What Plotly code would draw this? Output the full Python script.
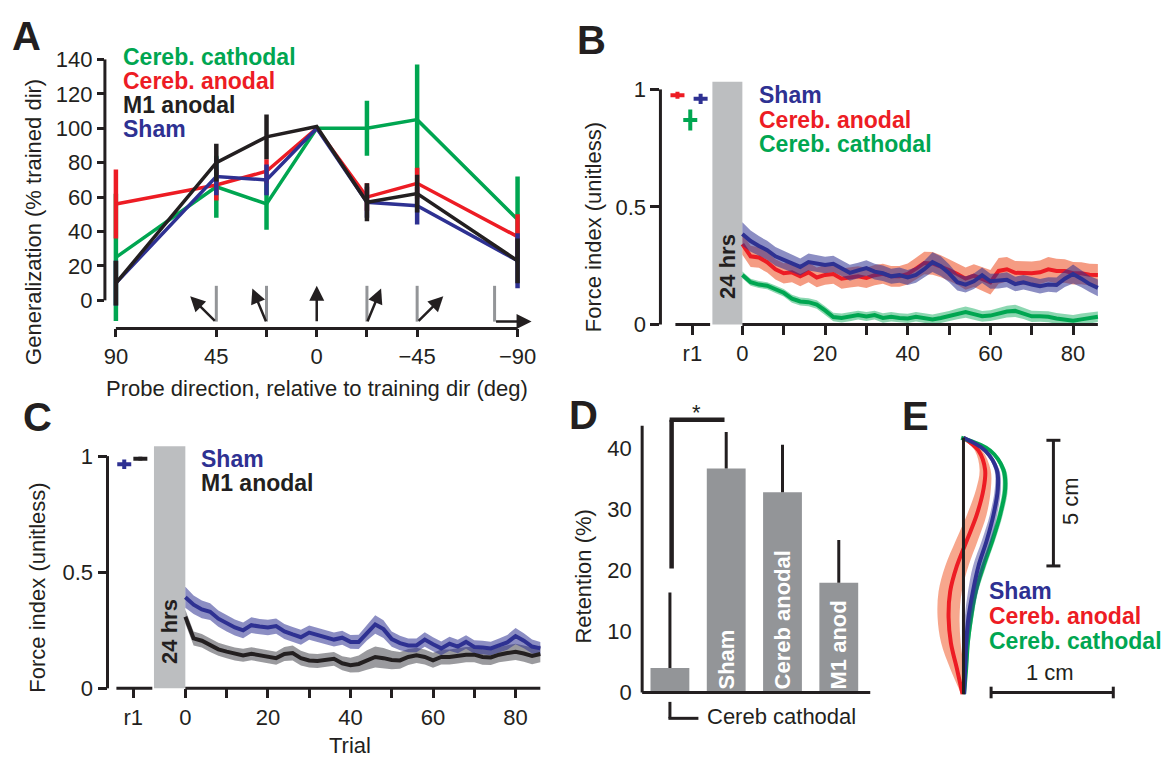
import math
import plotly.graph_objects as go

W, H = 1168, 771
FONT = "Liberation Sans, Arial, Helvetica, sans-serif"
GREEN = "#00A651"
RED = "#ED1C24"
BLACK = "#231F20"
BLUE = "#2E3192"
GRAY_BAR = "#939598"
GRAY_BOX = "#BCBEC0"
GRAY_LINE = "#939598"

# ------------------------------------------------------------------ data
# Panel A: generalization
probe_dirs = [90, 45, 22.5, 0, -22.5, -45, -90]
probe_tick_text = ["90", "45", "", "0", "", "\u221245", "\u221290"]
gen_cathodal = [25, 66, 56, 100, 100, 105, 47]
gen_cathodal_err = [37, 18, 15, 0, 16, 32, 25]
gen_anodal = [56, 67, 75, 100, 60, 68, 37]
gen_anodal_err = [20, 9, 7, 0, 8, 9, 13]
gen_sham = [10, 72, 70, 100, 57, 55, 23]
gen_sham_err = [13, 11, 9, 0, 9, 11, 16]
gen_m1 = [10, 80, 95, 101, 57, 62, 23]
gen_m1_err = [13, 11, 13, 0, 11, 11, 13]
a_yticks = [0, 20, 40, 60, 80, 100, 120, 140]

# Panels B / C: force index vs trial
trials = list(range(0, 87, 2))
trial_ticks = [0, 10, 20, 30, 40, 50, 60, 70, 80]
trial_tick_text = ["0", "", "20", "", "40", "", "60", "", "80"]
fi_ticks = [0, 0.5, 1]
fi_tick_text = ["0", "0.5", "1"]

b_sham = [0.385, 0.355, 0.334, 0.316, 0.290, 0.275, 0.260, 0.245, 0.266, 0.259,
          0.253, 0.258, 0.240, 0.220, 0.230, 0.240, 0.225, 0.218, 0.205, 0.210,
          0.200, 0.211, 0.235, 0.265, 0.248, 0.218, 0.180, 0.170, 0.184, 0.210,
          0.184, 0.185, 0.190, 0.172, 0.180, 0.170, 0.163, 0.170, 0.168, 0.195,
          0.215, 0.195, 0.172, 0.156]
b_sham_sem = [0.050, 0.045, 0.042, 0.040, 0.040, 0.038, 0.037, 0.036, 0.036, 0.036,
              0.035, 0.035, 0.034, 0.034, 0.033, 0.033, 0.033, 0.033, 0.032, 0.032,
              0.032, 0.033, 0.036, 0.042, 0.042, 0.038, 0.035, 0.034, 0.033, 0.033,
              0.032, 0.032, 0.032, 0.031, 0.031, 0.031, 0.031, 0.031, 0.032, 0.035,
              0.040, 0.036, 0.034, 0.036]
b_anodal = [0.342, 0.290, 0.285, 0.265, 0.235, 0.218, 0.222, 0.205, 0.222, 0.200,
            0.211, 0.215, 0.195, 0.200, 0.205, 0.198, 0.210, 0.216, 0.205, 0.205,
            0.215, 0.238, 0.262, 0.260, 0.248, 0.232, 0.215, 0.195, 0.208, 0.195,
            0.180, 0.228, 0.235, 0.220, 0.218, 0.218, 0.222, 0.235, 0.228, 0.228,
            0.218, 0.218, 0.212, 0.211]
b_anodal_sem = [0.045, 0.045, 0.044, 0.044, 0.043, 0.043, 0.042, 0.042, 0.042, 0.042,
                0.042, 0.042, 0.043, 0.043, 0.043, 0.043, 0.043, 0.043, 0.044, 0.044,
                0.045, 0.046, 0.048, 0.048, 0.047, 0.046, 0.046, 0.047, 0.048, 0.050,
                0.052, 0.055, 0.052, 0.050, 0.050, 0.050, 0.050, 0.052, 0.052, 0.050,
                0.048, 0.047, 0.046, 0.046]
b_cathodal = [0.211, 0.180, 0.170, 0.165, 0.150, 0.135, 0.110, 0.098, 0.095, 0.085,
              0.060, 0.032, 0.028, 0.033, 0.040, 0.034, 0.040, 0.028, 0.033, 0.028,
              0.026, 0.033, 0.028, 0.022, 0.028, 0.035, 0.045, 0.053, 0.044, 0.035,
              0.038, 0.047, 0.055, 0.058, 0.048, 0.035, 0.035, 0.033, 0.026, 0.020,
              0.016, 0.022, 0.028, 0.033]
b_cathodal_sem = [0.014, 0.015, 0.015, 0.015, 0.016, 0.016, 0.017, 0.017, 0.017, 0.018,
                  0.018, 0.018, 0.019, 0.019, 0.019, 0.019, 0.019, 0.020, 0.020, 0.020,
                  0.020, 0.020, 0.021, 0.021, 0.022, 0.022, 0.023, 0.024, 0.024, 0.023,
                  0.023, 0.024, 0.025, 0.026, 0.025, 0.024, 0.023, 0.023, 0.023, 0.024,
                  0.025, 0.025, 0.024, 0.022]
# r1 (end of day-1 training) values for panel B: anodal, cathodal, sham
b_r1_groups = ["Cereb. anodal", "Cereb. cathodal", "Sham"]
b_r1_pos = [-15.7, -12.6, -10.1]
b_r1_val = [0.975, 0.870, 0.960]
b_r1_err = [0.015, 0.045, 0.022]
b_r1_tick = -12.1

c_sham = [0.392, 0.360, 0.340, 0.330, 0.300, 0.280, 0.262, 0.250, 0.272, 0.266,
          0.262, 0.268, 0.245, 0.232, 0.220, 0.240, 0.230, 0.220, 0.210, 0.218,
          0.200, 0.200, 0.240, 0.275, 0.255, 0.212, 0.195, 0.185, 0.185, 0.210,
          0.190, 0.172, 0.192, 0.180, 0.200, 0.178, 0.176, 0.172, 0.185, 0.198,
          0.225, 0.205, 0.180, 0.172]
c_sham_sem = [0.045, 0.040, 0.038, 0.036, 0.035, 0.035, 0.034, 0.034, 0.034, 0.033,
              0.033, 0.033, 0.032, 0.032, 0.032, 0.031, 0.031, 0.031, 0.030, 0.030,
              0.030, 0.031, 0.034, 0.040, 0.038, 0.033, 0.031, 0.030, 0.030, 0.031,
              0.030, 0.030, 0.030, 0.029, 0.029, 0.029, 0.029, 0.029, 0.030, 0.032,
              0.035, 0.032, 0.030, 0.028]
c_m1 = [0.308, 0.215, 0.205, 0.185, 0.168, 0.158, 0.148, 0.142, 0.149, 0.143,
        0.137, 0.130, 0.148, 0.152, 0.130, 0.120, 0.118, 0.121, 0.127, 0.108,
        0.100, 0.105, 0.122, 0.135, 0.130, 0.122, 0.120, 0.135, 0.142, 0.135,
        0.121, 0.135, 0.135, 0.140, 0.145, 0.145, 0.135, 0.133, 0.145, 0.152,
        0.157, 0.150, 0.140, 0.148]
c_m1_sem = [0.030, 0.030, 0.029, 0.029, 0.028, 0.028, 0.028, 0.028, 0.028, 0.028,
            0.028, 0.028, 0.030, 0.032, 0.032, 0.030, 0.030, 0.030, 0.030, 0.030,
            0.032, 0.036, 0.042, 0.045, 0.044, 0.040, 0.036, 0.034, 0.033, 0.032,
            0.032, 0.032, 0.032, 0.033, 0.033, 0.033, 0.033, 0.033, 0.033, 0.034,
            0.035, 0.035, 0.036, 0.036]
c_r1_pos = [-14.8, -10.9]
c_r1_val = [0.965, 0.989]
c_r1_err = [0.020, 0.008]
c_r1_tick = -12.6

# Panel D: retention
d_groups = ["Cereb cathodal", "Sham", "Cereb anodal", "M1 anod"]
d_bar_labels = ["", "Sham", "Cereb anodal", "M1 anod"]
d_retention = [4.0, 36.7, 32.8, 18.0]
d_sem = [12.4, 6.0, 7.8, 7.0]
d_yticks = [0, 10, 20, 30, 40]

# Panel E: hand paths (lateral deviation in cm vs distance along reach in cm)
e_along = [0, 1, 2, 3, 4, 5, 6, 7, 8, 8.75, 9.5, 10]
e_sham = [0.005, 0.014, 0.022, 0.041, 0.077, 0.123, 0.191, 0.246, 0.281, 0.273, 0.177, 0.0]
e_sham_sd = [0.005, 0.015, 0.020, 0.030, 0.040, 0.045, 0.040, 0.030, 0.025, 0.020, 0.015, 0.005]
e_anodal = [-0.008, -0.054, -0.103, -0.122, -0.109, -0.054, 0.028, 0.109, 0.164, 0.177, 0.123, 0.0]
e_anodal_sd = [0.010, 0.055, 0.080, 0.090, 0.095, 0.095, 0.090, 0.080, 0.060, 0.045, 0.030, 0.010]
e_cathodal = [0.005, 0.022, 0.036, 0.063, 0.100, 0.164, 0.237, 0.300, 0.341, 0.327, 0.218, -0.019]
e_cathodal_sd = [0.005, 0.012, 0.015, 0.018, 0.020, 0.022, 0.022, 0.022, 0.022, 0.020, 0.015, 0.005]


# ------------------------------------------------------------------ helpers
def lin(v0, p0, v1, p1):
    k = (p1 - p0) / (v1 - v0)
    return (lambda v: p0 + (v - v0) * k), (lambda p: v0 + (p - p0) / k)


def PX(x):
    return x / W


def PY(y):
    return 1 - y / H


def panel(xmap, ymap, xdom, ydom):
    """xdom=(left px, right px), ydom=(top px, bottom px)"""
    fx, ix = lin(*xmap)
    fy, iy = lin(*ymap)
    return dict(fx=fx, fy=fy,
                xd=[PX(xdom[0]), PX(xdom[1])], yd=[PY(ydom[1]), PY(ydom[0])],
                xr=[ix(xdom[0]), ix(xdom[1])], yr=[iy(ydom[1]), iy(ydom[0])])


pA = panel((90, 115, -90, 517), (0, 298, 140, 49), (104, 540), (49, 327))
pB = panel((0, 742, 80, 1073), (0, 323, 1, 80), (660, 1100), (60, 323))
pC = panel((0, 184.5, 80, 515), (0, 699, 1, 459), (106.6, 541), (430, 699))
pD = panel((0, 669.5, 3, 838.5), (0, 703.3, 40, 451), (641.7, 870), (405, 703.3))
pE = panel((0, 963.3, 1, 1085.6), (0, 705, 10, 440), (925, 1168), (425, 720))

shapes = []
annotations = []


def pline(x0, y0, x1, y1, color=BLACK, width=3):
    shapes.append(dict(type="line", xref="paper", yref="paper",
                       x0=PX(x0), y0=PY(y0), x1=PX(x1), y1=PY(y1),
                       line=dict(color=color, width=width)))


def prect(x0, y0, x1, y1, color):
    shapes.append(dict(type="rect", xref="paper", yref="paper", layer="below",
                       x0=PX(x0), y0=PY(y0), x1=PX(x1), y1=PY(y1),
                       fillcolor=color, line=dict(width=0)))


def ptext(x, y, text, size=22, color=BLACK, xanchor="center", yanchor="middle", angle=0):
    annotations.append(dict(xref="paper", yref="paper", x=PX(x), y=PY(y), text=text,
                            showarrow=False, xanchor=xanchor, yanchor=yanchor,
                            textangle=angle, borderpad=0,
                            font=dict(family=FONT, size=size, color=color)))


def band(t, m, s, color, xa, ya, shape="linear"):
    up = [a + b for a, b in zip(m, s)]
    lo = [a - b for a, b in zip(m, s)]
    fig.add_trace(go.Scatter(x=list(t) + list(t)[::-1], y=up + lo[::-1], fill="toself",
                             fillcolor=color, line=dict(width=0, shape=shape), mode="lines",
                             xaxis=xa, yaxis=ya, hoverinfo="skip"))


def hband(along, m, s, color, xa, ya):
    right = [a + b for a, b in zip(m, s)]
    left = [a - b for a, b in zip(m, s)]
    fig.add_trace(go.Scatter(x=right + left[::-1], y=list(along) + list(along)[::-1],
                             fill="toself", fillcolor=color, mode="lines",
                             line=dict(width=0, shape="spline"),
                             xaxis=xa, yaxis=ya, hoverinfo="skip"))


fig = go.Figure()

# ------------------------------------------------------------------ Panel A
for vals, errs, col in [(gen_cathodal, gen_cathodal_err, GREEN),
                        (gen_anodal, gen_anodal_err, RED),
                        (gen_sham, gen_sham_err, BLUE),
                        (gen_m1, gen_m1_err, BLACK)]:
    fig.add_trace(go.Scatter(x=probe_dirs, y=vals, mode="lines",
                             line=dict(color=col, width=3.5),
                             error_y=dict(type="data", array=errs, visible=True,
                                          thickness=4.5, width=0, color=col),
                             xaxis="x", yaxis="y", hoverinfo="skip"))

# axis lines A
pline(104, pA["fy"](0), 104, pA["fy"](140))
pline(pA["fx"](90), 327, pA["fx"](-90), 327)

# probe direction icons
L = 37
base_y = 320
for d in probe_dirs[1:]:
    bx = pA["fx"](d)
    if abs(d) == 90:
        bx -= 23
    if d != 0:
        pline(bx, base_y - L, bx, base_y, color=GRAY_LINE, width=3)
    r = math.radians(d)
    hx = bx - L * math.sin(r)
    hy = base_y - L * math.cos(r)
    annotations.append(dict(xref="paper", yref="paper", x=PX(hx), y=PY(hy), text="",
                            showarrow=True, ax=L * math.sin(r), ay=L * math.cos(r),
                            arrowhead=2, arrowsize=1.2, arrowwidth=2.5, arrowcolor=BLACK,
                            standoff=0))

for i, (txt, col) in enumerate([("Cereb. cathodal", GREEN), ("Cereb. anodal", RED),
                                ("M1 anodal", BLACK), ("Sham", BLUE)]):
    ptext(121, 46.7 + 24.7 * i, "<b>%s</b>" % txt, size=23, color=col, xanchor="left")
ptext(33, 217, "Generalization (% trained dir)", angle=-90)
ptext(316, 389, "Probe direction, relative to training dir (deg)")

# ------------------------------------------------------------------ Panel B
band(trials, b_cathodal, b_cathodal_sem, "rgba(0,166,81,0.45)", "x2", "y2")
fig.add_trace(go.Scatter(x=trials, y=b_cathodal, mode="lines", line=dict(color=GREEN, width=4),
                         xaxis="x2", yaxis="y2", hoverinfo="skip"))
band(trials, b_anodal, b_anodal_sem, "rgba(239,95,55,0.62)", "x2", "y2")
fig.add_trace(go.Scatter(x=trials, y=b_anodal, mode="lines", line=dict(color=RED, width=4),
                         xaxis="x2", yaxis="y2", hoverinfo="skip"))
band(trials, b_sham, b_sham_sem, "rgba(46,49,146,0.55)", "x2", "y2")
fig.add_trace(go.Scatter(x=trials, y=b_sham, mode="lines", line=dict(color=BLUE, width=4),
                         xaxis="x2", yaxis="y2", hoverinfo="skip"))
for pos, val, err, col in zip(b_r1_pos, b_r1_val, b_r1_err, [RED, GREEN, BLUE]):
    fig.add_trace(go.Scatter(x=[pos], y=[val], mode="markers",
                             marker=dict(symbol="line-ew", size=10, line=dict(width=4, color=col)),
                             error_y=dict(type="data", array=[err], visible=True, thickness=4,
                                          width=0, color=col),
                             xaxis="x2", yaxis="y2", hoverinfo="skip"))

pline(660, pB["fy"](0), 660, pB["fy"](1))
pline(pB["fx"](-16.2), 323, pB["fx"](-7.8), 323)
pline(pB["fx"](0), 323, pB["fx"](86), 323)
prect(pB["fx"](-7.25), pB["fy"](1.033), pB["fx"](0), 323, GRAY_BOX)
ptext(pB["fx"](-3.6), 263, "<b>24 hrs</b>", angle=-90)
for i, (txt, col) in enumerate([("Sham", BLUE), ("Cereb. anodal", RED),
                                ("Cereb. cathodal", GREEN)]):
    ptext(758, 86 + 25.3 * i, "<b>%s</b>" % txt, size=23, color=col, xanchor="left")
ptext(593, 222, "Force index (unitless)", angle=-90)

# ------------------------------------------------------------------ Panel C
band(trials, c_m1, c_m1_sem, "rgba(115,115,120,0.72)", "x3", "y3")
band(trials, c_sham, c_sham_sem, "rgba(46,49,146,0.55)", "x3", "y3")
fig.add_trace(go.Scatter(x=trials, y=c_m1, mode="lines", line=dict(color=BLACK, width=4),
                         xaxis="x3", yaxis="y3", hoverinfo="skip"))
fig.add_trace(go.Scatter(x=trials, y=c_sham, mode="lines", line=dict(color=BLUE, width=4),
                         xaxis="x3", yaxis="y3", hoverinfo="skip"))
for pos, val, err, col in zip(c_r1_pos, c_r1_val, c_r1_err, [BLUE, BLACK]):
    fig.add_trace(go.Scatter(x=[pos], y=[val], mode="markers",
                             marker=dict(symbol="line-ew", size=10, line=dict(width=4, color=col)),
                             error_y=dict(type="data", array=[err], visible=True, thickness=4,
                                          width=0, color=col),
                             xaxis="x3", yaxis="y3", hoverinfo="skip"))
pline(106.6, pC["fy"](0), 106.6, pC["fy"](1))
pline(pC["fx"](-16.7), 699, pC["fx"](-8.0), 699)
pline(pC["fx"](0), 699, pC["fx"](86), 699)
prect(pC["fx"](-7.6), pC["fy"](1.042), pC["fx"](0), 699, GRAY_BOX)
ptext(pC["fx"](-3.8), 640, "<b>24 hrs</b>", angle=-90)
ptext(199, 461.7, "<b>Sham</b>", size=23, color=BLUE, xanchor="left")
ptext(199, 486.7, "<b>M1 anodal</b>", size=23, color=BLACK, xanchor="left")
ptext(37, 595, "Force index (unitless)", angle=-90)
ptext(pC["fx"](40), 758, "Trial")

# ------------------------------------------------------------------ Panel D
fig.add_trace(go.Bar(x=[0, 1, 2, 3], y=d_retention, width=0.69, marker=dict(color=GRAY_BAR, line=dict(width=0)),
                     text=d_bar_labels, textposition="inside", insidetextanchor="start",
                     textangle=-90, constraintext="none",
                     insidetextfont=dict(family=FONT, size=22, color="white", weight="bold"),
                     error_y=dict(type="data", symmetric=False, array=d_sem,
                                  arrayminus=[0, 0, 0, 0], thickness=3, width=0, color=BLACK),
                     xaxis="x4", yaxis="y4", hoverinfo="skip"))
pline(641.7, pD["fy"](0), 641.7, pD["fy"](43.7))
pline(641.7, pD["fy"](0), 870, pD["fy"](0))
# significance bracket
pline(pD["fx"](0.03), pD["fy"](20.3), pD["fx"](0.03), pD["fy"](44.7), width=4.5)
pline(pD["fx"](0.03) - 2, pD["fy"](44.7), pD["fx"](0.97), pD["fy"](44.7), width=4.5)
ptext(pD["fx"](0.48), 414, "*")
# group label bracket
pline(pD["fx"](0), 713, pD["fx"](0), 730, width=3)
pline(pD["fx"](0) - 1.5, 730, 698, 730, width=3)
ptext(706, 728, d_groups[0], xanchor="left")
ptext(583, 583, "Retention (%)", angle=-90)

# ------------------------------------------------------------------ Panel E
hband(e_along, e_anodal, e_anodal_sd, "rgba(242,120,80,0.65)", "x5", "y5")
fig.add_trace(go.Scatter(x=e_anodal, y=e_along, mode="lines", line=dict(color=RED, width=4, shape="spline"),
                         xaxis="x5", yaxis="y5", hoverinfo="skip"))
hband(e_along, e_cathodal, e_cathodal_sd, "rgba(0,166,81,0.45)", "x5", "y5")
fig.add_trace(go.Scatter(x=e_cathodal, y=e_along, mode="lines", line=dict(color=GREEN, width=4, shape="spline"),
                         xaxis="x5", yaxis="y5", hoverinfo="skip"))
hband(e_along, e_sham, e_sham_sd, "rgba(46,49,146,0.45)", "x5", "y5")
fig.add_trace(go.Scatter(x=e_sham, y=e_along, mode="lines", line=dict(color=BLUE, width=4, shape="spline"),
                         xaxis="x5", yaxis="y5", hoverinfo="skip"))
fig.add_trace(go.Scatter(x=[0, 0], y=[e_along[0], e_along[-1]], mode="lines",
                         line=dict(color=BLACK, width=3), xaxis="x5", yaxis="y5", hoverinfo="skip"))
# scale bars
sx = pE["fx"](0.736)
pline(sx, pE["fy"](5.0), sx, pE["fy"](9.9))
pline(sx - 7, pE["fy"](5.0), sx + 7, pE["fy"](5.0))
pline(sx - 7, pE["fy"](9.9), sx + 7, pE["fy"](9.9))
ptext(sx + 17, 505, "5 cm", angle=-90)
hy = 703.3
pline(pE["fx"](0.226), hy, pE["fx"](1.226), hy)
pline(pE["fx"](0.226), hy - 6, pE["fx"](0.226), hy + 6)
pline(pE["fx"](1.226), hy - 6, pE["fx"](1.226), hy + 6)
ptext(1050, 683, "1 cm")
for i, (txt, col) in enumerate([("Sham", BLUE), ("Cereb. anodal", RED),
                                ("Cereb. cathodal", GREEN)]):
    ptext(988, 598.5 + 25.7 * i, "<b>%s</b>" % txt, size=23, color=col, xanchor="left")

# ------------------------------------------------------------------ panel letters
for letter, x, y in [("A", 26, 25), ("B", 591, 29), ("C", 37, 419), ("D", 583, 417), ("E", 915, 418)]:
    ptext(x, y, "<b>%s</b>" % letter, size=40)

# ------------------------------------------------------------------ axes
tfont = dict(family=FONT, size=22, color=BLACK)
base = dict(showgrid=False, zeroline=False, showline=False, ticks="outside", tickwidth=3,
            tickcolor=BLACK, tickfont=tfont, fixedrange=True)


def ax(**kw):
    d = dict(base)
    d.update(kw)
    return d


layout = dict(
    width=W, height=H, margin=dict(l=0, r=0, t=0, b=0, pad=0), autosize=False,
    paper_bgcolor="white", plot_bgcolor="rgba(0,0,0,0)", showlegend=False,
    font=dict(family=FONT, size=22, color=BLACK),
    shapes=shapes, annotations=annotations,
    xaxis=ax(domain=pA["xd"], range=pA["xr"], anchor="y", tickvals=probe_dirs,
             ticktext=probe_tick_text, ticklen=8),
    yaxis=ax(domain=pA["yd"], range=pA["yr"], anchor="x", tickvals=a_yticks, ticklen=7),
    xaxis2=ax(domain=pB["xd"], range=pB["xr"], anchor="y2",
              tickvals=[b_r1_tick] + trial_ticks, ticktext=["r1"] + trial_tick_text, ticklen=9),
    yaxis2=ax(domain=pB["yd"], range=pB["yr"], anchor="x2", tickvals=fi_ticks,
              ticktext=fi_tick_text, ticklen=9),
    xaxis3=ax(domain=pC["xd"], range=pC["xr"], anchor="y3",
              tickvals=[c_r1_tick] + trial_ticks, ticktext=["r1"] + trial_tick_text, ticklen=9),
    yaxis3=ax(domain=pC["yd"], range=pC["yr"], anchor="x3", tickvals=fi_ticks,
              ticktext=fi_tick_text, ticklen=9),
    xaxis4=ax(domain=pD["xd"], range=pD["xr"], anchor="y4", showticklabels=False, ticks=""),
    yaxis4=ax(domain=pD["yd"], range=pD["yr"], anchor="x4", tickvals=d_yticks,
              ticklen=5, tickcolor="rgba(0,0,0,0)"),
    xaxis5=dict(domain=pE["xd"], range=pE["xr"], anchor="y5", visible=False, fixedrange=True),
    yaxis5=dict(domain=pE["yd"], range=pE["yr"], anchor="x5", visible=False, fixedrange=True),
)
fig.update_layout(**layout)
fig.write_html("out.html", config={"displayModeBar": False},
               post_script="document.body.style.margin='0';document.body.style.overflow='hidden';")
